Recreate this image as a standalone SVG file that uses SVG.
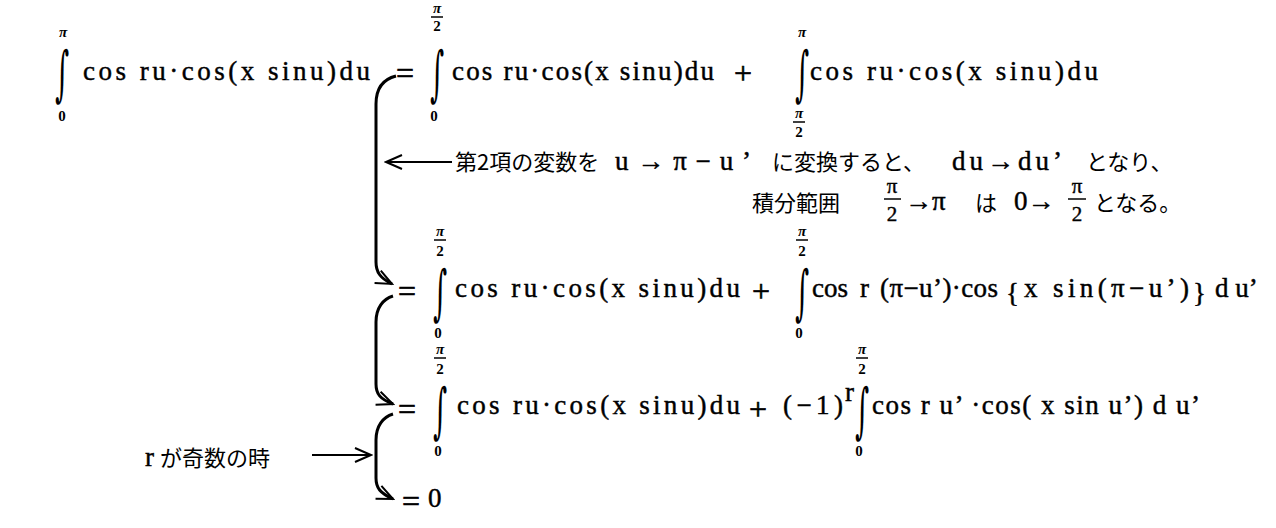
<svg xmlns="http://www.w3.org/2000/svg" width="1276" height="528" viewBox="0 0 1276 528">
<defs>
<style>
.m{font-family:"Liberation Serif","Noto Sans CJK JP",serif;font-size:27px;fill:#000;stroke:#000;stroke-width:0.45}
.eq{font-family:"Liberation Serif",serif;font-size:32px;fill:#000;stroke:#000;stroke-width:0.6}
.j{font-family:"Noto Sans CJK JP",sans-serif;font-size:22px;fill:#000}
.lim{font-family:"Liberation Serif",serif;font-size:15px;font-weight:bold;fill:#000;text-anchor:middle}
.pi{font-family:"Liberation Serif",serif;font-size:15px;font-weight:bold;font-style:italic;fill:#000;text-anchor:middle}
.fr{font-family:"Liberation Serif",serif;font-size:21px;fill:#000;stroke:#000;stroke-width:0.4;text-anchor:middle}
.int{font-family:"DejaVu Serif",serif;font-size:60px;fill:#000}
.bar{stroke:#000;stroke-width:1.5}
.br{fill:none;stroke:#000;stroke-width:3}
.ar{fill:none;stroke:#000;stroke-width:1.8}
</style>
<marker id="ah" viewBox="0 0 20 20" refX="18" refY="10" markerWidth="20" markerHeight="20" markerUnits="userSpaceOnUse" orient="auto">
<path d="M2 3 L18 10 L2 17" fill="none" stroke="#000" stroke-width="2"/>
</marker>
</defs>
<rect width="1276" height="528" fill="#fff"/>

<g id="line1">
<text class="int" transform="translate(55,94) scale(0.45,1)">∫</text>
<text class="pi" x="63" y="37">π</text>
<text class="lim" x="62" y="121">0</text>
<text class="m" x="83" y="80" textLength="287" lengthAdjust="spacing">cos ru·cos(x  sinu)du</text>
<text class="eq" x="396" y="84">=</text>
<text class="int" transform="translate(430,94) scale(0.45,1)">∫</text>
<text class="pi" x="437" y="13">π</text>
<line class="bar" x1="431" y1="17" x2="443" y2="17"/>
<text class="lim" x="437" y="31">2</text>
<text class="lim" x="434" y="121">0</text>
<text class="m" x="452" y="80" textLength="262" lengthAdjust="spacing">cos ru·cos(x  sinu)du</text>
<text class="eq" x="734" y="84">+</text>
<text class="int" transform="translate(795,94) scale(0.45,1)">∫</text>
<text class="pi" x="802" y="37">π</text>
<text class="pi" x="799" y="118">π</text>
<line class="bar" x1="793" y1="122" x2="805" y2="122"/>
<text class="lim" x="799" y="137">2</text>
<text class="m" x="810" y="80" textLength="288" lengthAdjust="spacing">cos ru·cos(x  sinu)du</text>
</g>

<g id="note">
<text class="j" x="455" y="170">第2項の変数を</text>
<text class="m" x="615" y="170" font-size="28" textLength="136" lengthAdjust="spacing">u→π−u’</text>
<text class="j" x="772" y="170">に変換すると、</text>
<text class="m" x="952" y="170" font-size="27" textLength="110" lengthAdjust="spacing">du→du’</text>
<text class="j" x="1086" y="170">となり、</text>
<text class="j" x="752" y="211">積分範囲</text>
<text class="fr" x="892" y="193">π</text>
<line class="bar" x1="884" y1="199" x2="901" y2="199"/>
<text class="fr" x="892" y="221">2</text>
<text class="m" x="905" y="210" font-size="22">→π</text>
<text class="j" x="975" y="211">は</text>
<text class="m" x="1014" y="210" font-size="22">0→</text>
<text class="fr" x="1077" y="193">π</text>
<line class="bar" x1="1068" y1="199" x2="1086" y2="199"/>
<text class="fr" x="1077" y="221">2</text>
<text class="j" x="1094" y="211">となる。</text>
</g>

<g id="line4">
<text class="eq" x="398" y="302">=</text>
<text class="int" transform="translate(433,313) scale(0.45,1)">∫</text>
<text class="pi" x="440" y="236">π</text>
<line class="bar" x1="434" y1="240" x2="446" y2="240"/>
<text class="lim" x="440" y="256">2</text>
<text class="lim" x="438" y="338">0</text>
<text class="m" x="455" y="297" textLength="285" lengthAdjust="spacing">cos ru·cos(x  sinu)du</text>
<text class="eq" x="752" y="302">+</text>
<text class="int" transform="translate(795,313) scale(0.45,1)">∫</text>
<text class="pi" x="802" y="236">π</text>
<line class="bar" x1="796" y1="240" x2="808" y2="240"/>
<text class="lim" x="802" y="256">2</text>
<text class="lim" x="799" y="338">0</text>
<text class="m" x="812" y="297">cos</text>
<text class="m" x="860" y="297">r</text>
<text class="m" x="880" y="297" textLength="118" lengthAdjust="spacing">(π−u’)·cos</text>
<text class="m" x="1006" y="302" font-size="40">{</text>
<text class="m" x="1024" y="297" textLength="165" lengthAdjust="spacing">x sin(π−u’)</text>
<text class="m" x="1193" y="302" font-size="40">}</text>
<text class="m" x="1215" y="297">d u’</text>
</g>

<g id="line5">
<text class="eq" x="398" y="420">=</text>
<text class="int" transform="translate(433,431) scale(0.45,1)">∫</text>
<text class="pi" x="440" y="354">π</text>
<line class="bar" x1="434" y1="358" x2="446" y2="358"/>
<text class="lim" x="440" y="374">2</text>
<text class="lim" x="438" y="456">0</text>
<text class="m" x="457" y="414" textLength="283" lengthAdjust="spacing">cos ru·cos(x  sinu)du</text>
<text class="eq" x="749" y="420">+</text>
<text class="m" x="783" y="414" textLength="60" lengthAdjust="spacing">(−1)</text>
<text class="m" x="845" y="401" font-size="15">r</text>
<text class="int" transform="translate(855,431) scale(0.45,1)">∫</text>
<text class="pi" x="862" y="354">π</text>
<line class="bar" x1="856" y1="358" x2="868" y2="358"/>
<text class="lim" x="862" y="374">2</text>
<text class="lim" x="859" y="456">0</text>
<text class="m" x="872" y="414" textLength="328" lengthAdjust="spacing">cos  r u’  ·cos( x sin u’) d u’</text>
</g>

<g id="line6">
<text class="m" x="145" y="466" font-size="26">r</text>
<text class="j" x="160" y="466" font-size="26">が奇数の時</text>
<text class="eq" x="402" y="512">=</text>
<text class="m" x="428" y="507" font-size="32">0</text>
</g>

<g id="connectors">
<path class="br" d="M396 76 C384 79 376 88 376 104 L376 262 C376 272 380 278 392 284" marker-end="url(#ah)"/>
<path class="br" d="M393 296 C383 299 376 308 376 322 L376 384 C376 394 380 399 393 404" marker-end="url(#ah)"/>
<path class="br" d="M393 414 C383 417 376 426 376 440 L376 478 C376 488 380 493 393 499" marker-end="url(#ah)"/>
<line class="ar" x1="452" y1="162" x2="386" y2="162" marker-end="url(#ah)"/>
<line class="ar" x1="312" y1="455" x2="371" y2="455" marker-end="url(#ah)"/>
</g>
</svg>
